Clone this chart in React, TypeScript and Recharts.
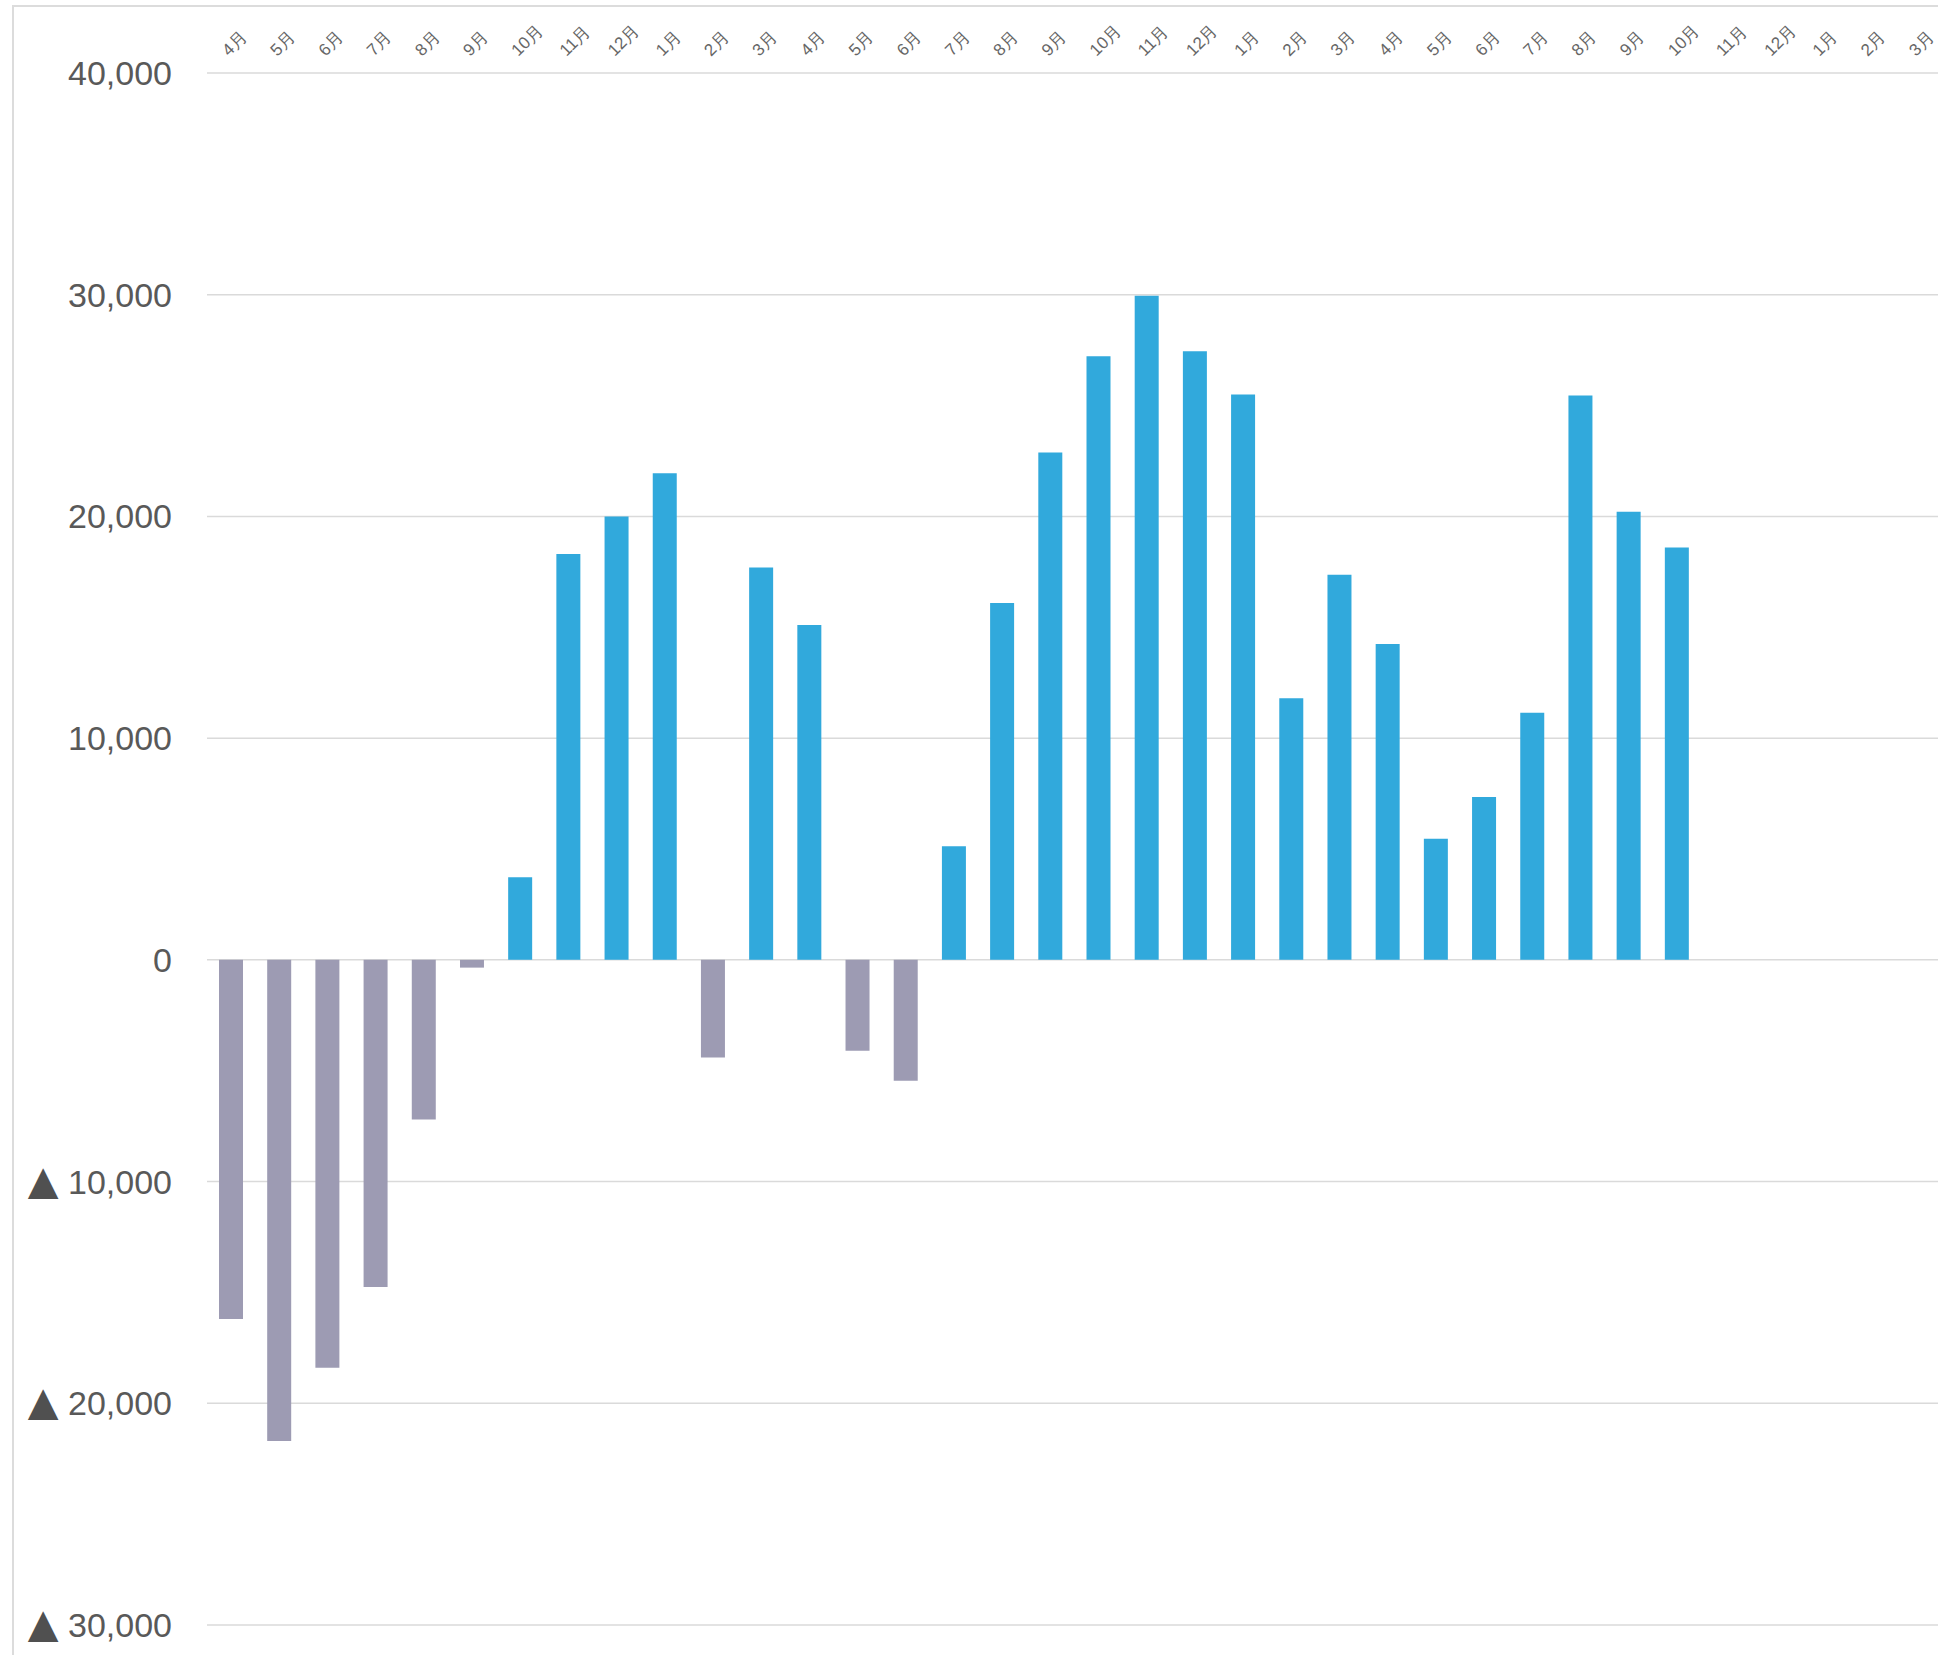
import { BarChart, Bar, XAxis, YAxis, CartesianGrid, Cell } from "recharts";

// months: 4月 of year 1 through 3月 of year 3 (36 categories)
const months = [
  "4月", "5月", "6月", "7月", "8月", "9月", "10月", "11月", "12月", "1月", "2月", "3月",
  "4月", "5月", "6月", "7月", "8月", "9月", "10月", "11月", "12月", "1月", "2月", "3月",
  "4月", "5月", "6月", "7月", "8月", "9月", "10月", "11月", "12月", "1月", "2月", "3月",
];

// monthly balance, null where no data yet
const balance: (number | null)[] = [
  -16200, -21700, -18400, -14750, -7200, -350, 3730, 18300, 20000, 21950, -4400, 17700,
  15100, -4100, -5450, 5120, 16090, 22880, 27230, 29950, 27450, 25500, 11800, 17370,
  14250, 5460, 7350, 11140, 25450, 20210, 18600, null, null, null, null, null,
];

const yTicks = [-30000, -20000, -10000, 0, 10000, 20000, 30000, 40000];

const data = months.map((m, i) => ({ key: `${i}`, month: m, value: balance[i] }));

const POS = "#31a9dc";
const NEG = "#9d9bb3";
const FONT = "'Liberation Sans', Arial, sans-serif";

function MonthTick(props: any) {
  const { x, payload } = props;
  const y = 57;
  return (
    <text
      x={x - 2}
      y={y}
      transform={`rotate(-45, ${x - 2}, ${y})`}
      textAnchor="start"
      fill="#666"
      fontSize={17}
      fontFamily={FONT}
    >
      {months[Number(payload.value)]}
    </text>
  );
}

function ValueTick(props: any) {
  const { x, y, payload } = props;
  const v = Number(payload.value);
  const num = Math.abs(v).toLocaleString("en-US");
  return (
    <text x={x} y={y} dy={12} textAnchor="end" fill="#595959" fontSize={34} fontFamily={FONT}>
      {v < 0 && (
        <tspan fontSize={40} fontFamily="'DejaVu Sans', sans-serif" fill="#505050">▲</tspan>
      )}
      {v < 0 ? `  ${num}` : num}
    </text>
  );
}

export default function App() {
  return (
    <div style={{ position: "absolute", left: 0, top: 0, width: 1938, height: 1655, overflow: "hidden", background: "#fff" }}>
      <div style={{ position: "absolute", left: 12, top: 5, width: 2000, height: 2000, borderLeft: "2px solid #dcdcdc", borderTop: "2px solid #dcdcdc" }} />
      <div style={{ position: "absolute", left: 0, top: 0 }}>
        <BarChart width={1942} height={1655} data={data} margin={{ top: 0, right: 0, bottom: 30, left: 0 }} barSize={24}>
          <CartesianGrid horizontal vertical={false} stroke="#dadada" strokeWidth={1.5} />
          <XAxis
            dataKey="key"
            orientation="top"
            height={73}
            axisLine={false}
            tickLine={false}
            interval={0}
            tick={<MonthTick />}
          />
          <YAxis
            width={207}
            domain={[-30000, 40000]}
            ticks={yTicks}
            axisLine={false}
            tickLine={false}
            tickSize={0}
            tickMargin={35}
            tick={<ValueTick />}
          />
          <Bar dataKey="value" isAnimationActive={false}>
            {data.map((d) => (
              <Cell key={d.key} fill={(d.value ?? 0) < 0 ? NEG : POS} />
            ))}
          </Bar>
        </BarChart>
      </div>
    </div>
  );
}
